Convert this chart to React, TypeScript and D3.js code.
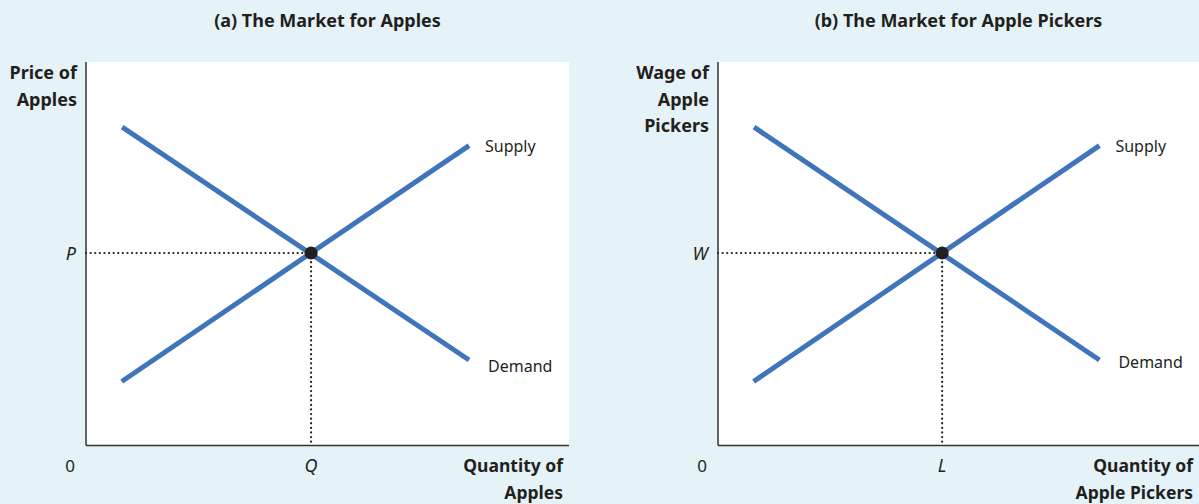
import React from 'react'
import { scaleLinear, line } from 'd3'

// abstract coordinates, 0..100 on both axes
const demand = [{ q: 7.5, p: 83 }, { q: 79.3, p: 22.3 }]
const supply = [{ q: 7.4, p: 16.7 }, { q: 79.3, p: 78.2 }]
const equilibrium = { q: 46.6, p: 50.2 }

const panels = [
  {
    title: '(a) The Market for Apples',
    yLabel: ['Price of', 'Apples'],
    xLabel: ['Quantity of', 'Apples'],
    priceTick: 'P',
    qtyTick: 'Q',
    left: 86,
    right: 569,
    demandLabelDy: 0,
  },
  {
    title: '(b) The Market for Apple Pickers',
    yLabel: ['Wage of', 'Apple', 'Pickers'],
    xLabel: ['Quantity of', 'Apple Pickers'],
    priceTick: 'W',
    qtyTick: 'L',
    left: 718,
    right: 1199,
    demandLabelDy: -4,
  },
]

const top = 62
const bottom = 445.5
const lineColor = '#4074bb'
const ink = '#231f20'
const font = '"Noto Sans", sans-serif'

function Panel({ cfg }: { cfg: typeof panels[0] }) {
  const x = scaleLinear().domain([0, 100]).range([cfg.left, cfg.right])
  const y = scaleLinear().domain([0, 100]).range([bottom, top])
  const path = line<{ q: number; p: number }>()
    .x(d => x(d.q))
    .y(d => y(d.p))

  const ex = x(equilibrium.q)
  const ey = y(equilibrium.p)

  return (
    <g>
      <text x={(cfg.left + cfg.right) / 2} y={27} textAnchor="middle" fontWeight="bold" fontSize={18} fill={ink}>
        {cfg.title}
      </text>
      <rect x={cfg.left} y={top} width={cfg.right - cfg.left} height={bottom - top} fill="#fff" />

      {/* dotted guides */}
      <line x1={x(0)} x2={ex} y1={ey} y2={ey} stroke={ink} strokeWidth={2.2}
        strokeLinecap="round" strokeDasharray="0.1 4.5" />
      <line x1={ex} x2={ex} y1={ey} y2={y(0)} stroke={ink} strokeWidth={2.2}
        strokeLinecap="round" strokeDasharray="0.1 4.5" />

      <path d={path(demand) ?? ''} fill="none" stroke={lineColor} strokeWidth={5} />
      <path d={path(supply) ?? ''} fill="none" stroke={lineColor} strokeWidth={5} />
      <circle cx={ex} cy={ey} r={6.5} fill={ink} />

      {/* axes */}
      <line x1={x(0)} x2={x(0)} y1={top} y2={y(0)} stroke="#333" strokeWidth={1.5} />
      <line x1={x(0)} x2={cfg.right} y1={y(0)} y2={y(0)} stroke="#333" strokeWidth={1.5} />

      <text x={x(supply[1].q) + 16} y={y(supply[1].p) + 6} fontSize={16} fill={ink}>Supply</text>
      <text x={x(demand[1].q) + 19} y={y(demand[1].p) + 12 + cfg.demandLabelDy} fontSize={16} fill={ink}>Demand</text>

      {cfg.yLabel.map((t, i) => (
        <text key={t} x={x(0) - 9} y={79 + i * 26.5} textAnchor="end" fontWeight="bold" fontSize={18} fill={ink}>{t}</text>
      ))}
      {cfg.xLabel.map((t, i) => (
        <text key={t} x={cfg.right - 6} y={472 + i * 26.5} textAnchor="end" fontWeight="bold" fontSize={17.5} fill={ink}>{t}</text>
      ))}

      <text x={x(0) - 16} y={472} textAnchor="middle" fontSize={17} fill={ink}>0</text>
      <text x={ex} y={472} textAnchor="middle" fontSize={18} fontStyle="italic" fill={ink}>{cfg.qtyTick}</text>
      <text x={x(0) - 10} y={ey + 7} textAnchor="end" fontSize={18} fontStyle="italic" fill={ink}>{cfg.priceTick}</text>
    </g>
  )
}

export default function App() {
  return (
    <svg width={1199} height={504} style={{ position: 'absolute', left: 0, top: 0, fontFamily: font }}>
      <rect width={1199} height={504} fill="#e5f3f8" />
      {panels.map(p => <Panel key={p.title} cfg={p} />)}
    </svg>
  )
}
